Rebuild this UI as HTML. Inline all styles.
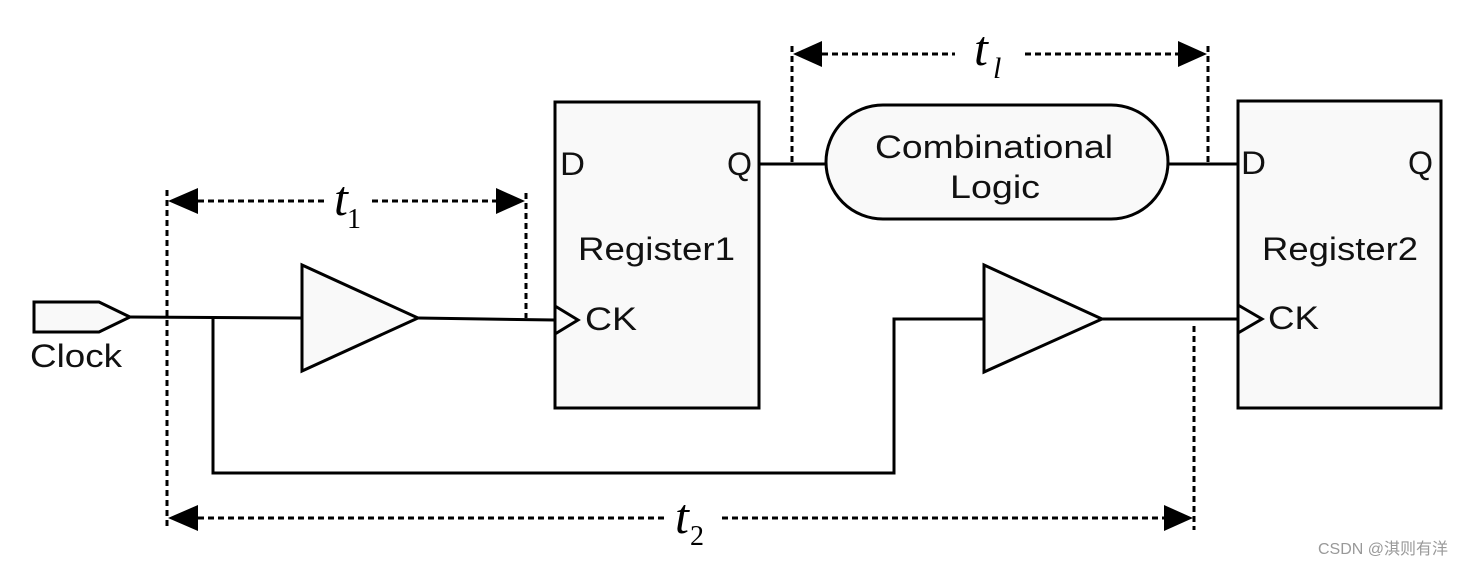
<!DOCTYPE html>
<html><head><meta charset="utf-8"><style>
html,body{margin:0;padding:0;background:#fff;}
svg{display:block;}
.s{font-family:"Liberation Sans",Arial,sans-serif;fill:#111;}
.t{font-family:"Liberation Serif",serif;font-style:italic;fill:#000;}
</style></head><body>
<svg width="1464" height="566" viewBox="0 0 1464 566" xmlns="http://www.w3.org/2000/svg">
<g stroke="#000" stroke-width="3" fill="#f9f9f9">
<polygon points="34,302 99,302 130,317 99,332 34,332"/>
<polyline fill="none" points="130,317 302,318"/>
<polyline fill="none" points="213,318 213,473 894,473 894,319 984,319"/>
<polyline fill="none" points="418,318 555,320"/>
<polyline fill="none" points="1102,319 1240,319"/>
<polyline fill="none" points="759,164 826,164"/>
<polyline fill="none" points="1168,164 1238,164"/>
<polygon points="302,265 302,371 418,318"/>
<polygon points="984,265 984,372 1102,319"/>
<rect x="555" y="102" width="204" height="306"/>
<rect x="1238" y="101" width="203" height="307"/>
<polygon points="555,306 578,320 555,334"/>
<polygon points="1238,305 1262,319 1238,333"/>
<rect x="826" y="105" width="342" height="114" rx="57" ry="57"/>
</g>
<g stroke="#000" stroke-width="3" fill="none" stroke-dasharray="6,4">
<line x1="167" y1="190" x2="167" y2="528"/>
<line x1="526" y1="193" x2="526" y2="318"/>
<line x1="792" y1="46" x2="792" y2="164"/>
<line x1="1208" y1="46" x2="1208" y2="164"/>
<line x1="1194" y1="326" x2="1194" y2="530"/>
<line x1="198" y1="201" x2="325" y2="201"/>
<line x1="372" y1="201" x2="496" y2="201"/>
<line x1="822" y1="54" x2="955" y2="54"/>
<line x1="1025" y1="54" x2="1178" y2="54"/>
<line x1="198" y1="518" x2="668" y2="518"/>
<line x1="722" y1="518" x2="1164" y2="518"/>
</g>
<g fill="#000">
<polygon points="168,201 198,188 198,214"/>
<polygon points="525,201 496,188 496,214"/>
<polygon points="793,54 822,41 822,67"/>
<polygon points="1207,54 1178,41 1178,67"/>
<polygon points="168,518 198,505 198,531"/>
<polygon points="1193,518 1164,505 1164,531"/>
</g>
<g class="s" font-size="32">
<text x="30" y="367" textLength="92" lengthAdjust="spacingAndGlyphs">Clock</text>
<text x="560" y="175" textLength="25" lengthAdjust="spacingAndGlyphs">D</text>
<text x="727" y="175" textLength="25" lengthAdjust="spacingAndGlyphs">Q</text>
<text x="578" y="260" textLength="157" lengthAdjust="spacingAndGlyphs">Register1</text>
<text x="585" y="330" textLength="52" lengthAdjust="spacingAndGlyphs">CK</text>
<text x="1241" y="174" textLength="25" lengthAdjust="spacingAndGlyphs">D</text>
<text x="1408" y="174" textLength="25" lengthAdjust="spacingAndGlyphs">Q</text>
<text x="1262" y="260" textLength="156" lengthAdjust="spacingAndGlyphs">Register2</text>
<text x="1268" y="329" textLength="51" lengthAdjust="spacingAndGlyphs">CK</text>
<text x="875" y="158" textLength="238" lengthAdjust="spacingAndGlyphs">Combinational</text>
<text x="950" y="198" textLength="90" lengthAdjust="spacingAndGlyphs">Logic</text>
</g>
<text class="t" x="334" y="215" font-size="50">t</text><text x="347" y="228" font-size="28" font-family="Liberation Serif,serif">1</text>
<text class="t" x="974" y="65" font-size="50">t</text><text class="t" x="993" y="78" font-size="30">l</text>
<text class="t" x="675" y="533" font-size="50">t</text><text x="690" y="545" font-size="28" font-family="Liberation Serif,serif">2</text>
<text x="1448" y="554" font-size="16" fill="#999" text-anchor="end" font-family="Liberation Sans,Noto Sans CJK SC,sans-serif">CSDN @淇则有洋</text>
</svg>
</body></html>
